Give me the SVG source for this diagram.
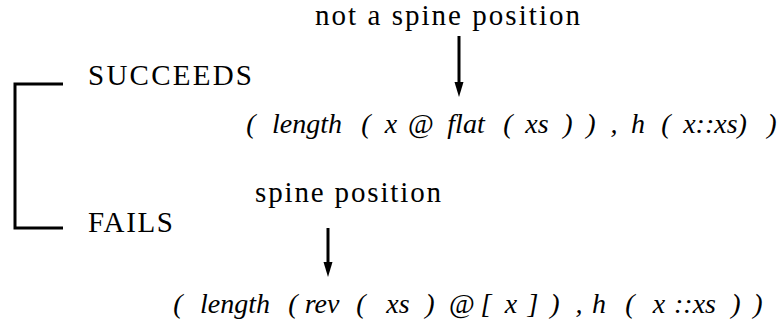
<svg xmlns="http://www.w3.org/2000/svg" width="784" height="327" viewBox="0 0 784 327">
<style>
.rm{font-family:'Liberation Serif',serif;font-size:29px;fill:#000}
.it{font-family:'Liberation Serif',serif;font-size:28px;font-style:italic;fill:#000;text-anchor:middle}
.up{font-style:normal}
.ln{stroke:#000;stroke-width:3;fill:none}
</style>
<defs>
<marker id="ah" markerUnits="userSpaceOnUse" markerWidth="15" markerHeight="10" refX="0" refY="5" orient="auto">
<path d="M0,0.5 L15,5 L0,9.5 z" fill="#000"/>
</marker>
</defs>
<g id="label-not-spine"><text class="rm" x="315" y="25" textLength="265" lengthAdjust="spacing">not a spine position</text></g>
<g id="label-succeeds"><text class="rm" x="88" y="85" textLength="164" lengthAdjust="spacing">SUCCEEDS</text></g>
<g id="expr1"><text class="it" y="133"><tspan x="251">(</tspan><tspan x="307">length</tspan><tspan x="366">(</tspan><tspan x="391">x</tspan><tspan x="421" class="up">@</tspan><tspan x="466">flat</tspan><tspan x="508">(</tspan><tspan x="537">xs</tspan><tspan x="568">)</tspan><tspan x="591">)</tspan><tspan x="614">,</tspan><tspan x="638">h</tspan><tspan x="666">(</tspan><tspan x="715">x::xs)</tspan><tspan x="772">)</tspan></text></g>
<g id="label-spine"><text class="rm" x="255" y="202" textLength="186" lengthAdjust="spacing">spine position</text></g>
<g id="label-fails"><text class="rm" x="88" y="232" textLength="85" lengthAdjust="spacing">FAILS</text></g>
<g id="expr2"><text class="it" y="313"><tspan x="178">(</tspan><tspan x="235">length</tspan><tspan x="293">(</tspan><tspan x="322">rev</tspan><tspan x="361">(</tspan><tspan x="398">xs</tspan><tspan x="430">)</tspan><tspan x="462" class="up">@</tspan><tspan x="486">[</tspan><tspan x="511">x</tspan><tspan x="533">]</tspan><tspan x="555">)</tspan><tspan x="579">,</tspan><tspan x="599">h</tspan><tspan x="630">(</tspan><tspan x="659">x</tspan><tspan x="695">::xs</tspan><tspan x="736">)</tspan><tspan x="758">)</tspan></text></g>
<g id="connectors">
<path class="ln" d="M63,84 H15 V228 H63"/>
<line class="ln" x1="459" y1="36" x2="459" y2="82" marker-end="url(#ah)"/>
<line class="ln" x1="328" y1="228" x2="328" y2="262" marker-end="url(#ah)"/>
</g>
</svg>
